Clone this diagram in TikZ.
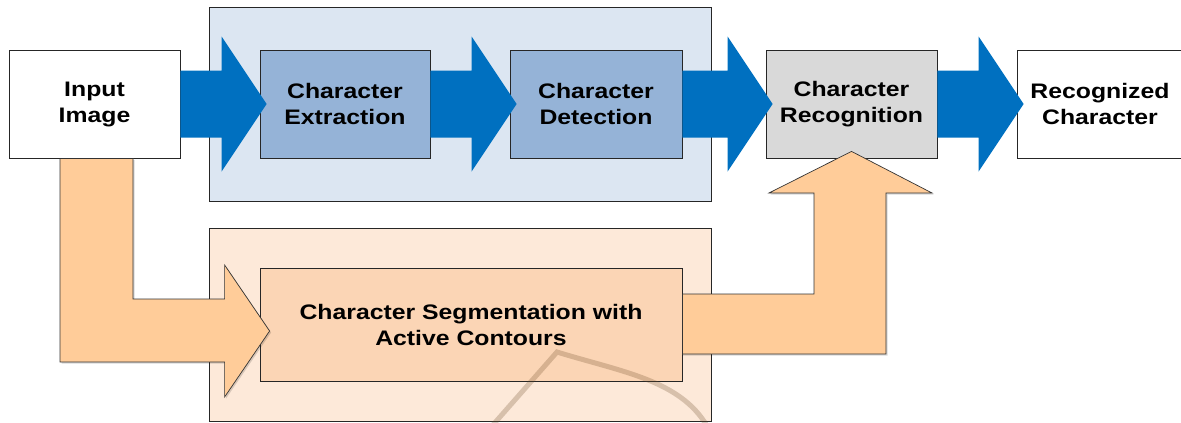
\documentclass[tikz,border=0pt]{standalone}
\usepackage{fontspec}
\newfontfamily\lbl{Liberation Sans}[FakeStretch=1.18]
\usetikzlibrary{calc}
\definecolor{grpblue}{HTML}{DCE6F2}
\definecolor{boxblue}{HTML}{95B3D7}
\definecolor{arrblue}{HTML}{0070C0}
\definecolor{boxgray}{HTML}{D9D9D9}
\definecolor{grporange}{HTML}{FDE9D9}
\definecolor{boxorange}{HTML}{FBD5B5}
\definecolor{arrorange}{HTML}{FFCC99}
\tikzset{
  blk/.style={draw=black!85, line width=0.8pt, minimum height=108pt, inner sep=0pt,
     align=center, font=\lbl\bfseries\fontsize{21}{26}\selectfont, text=black},
  grp/.style={draw=black!85, line width=0.8pt, minimum width=502pt, inner sep=0pt},
  bluearr/.style={fill=arrblue},
  orarr/.style={fill=arrorange, draw=black!80, line width=0.7pt},
  orshadow/.style={fill=black, opacity=0.15},
  wmark/.style={draw=black!45!brown, line width=5pt, opacity=0.25}
}
\newcommand\bluearrow[2]{%
  \path[bluearr] let \p1=(#1.east), \p2=(#2.west) in
   (\x1,\y1+33.5pt) -- (\x2-38pt,\y1+33.5pt) -- (\x2-38pt,\y1+67.5pt) -- (\x2+7pt,\y1)
   -- (\x2-38pt,\y1-67.5pt) -- (\x2-38pt,\y1-33.5pt) -- (\x1,\y1-33.5pt) -- cycle;}
\begin{document}
\begin{tikzpicture}[x=1pt,y=-1pt]
\useasboundingbox (0,0) rectangle (1181,423);
% groups
\node[grp, fill=grpblue, minimum height=194pt] (gtop) at (460,104) {};
\node[grp, fill=grporange, minimum height=193pt] (gbot) at (460,324.5) {};
% boxes
\node[blk, fill=white, minimum width=171pt] (in) at (94.5,104) {Input\\Image};
\node[blk, fill=boxblue, minimum width=170pt] (ext) at (345,104) {Character\\Extraction};
\node[blk, fill=boxblue, minimum width=172pt] (det) at (596,104) {Character\\Detection};
\node[blk, fill=boxgray, minimum width=171pt] (rec) at (851.5,104) {Character\\Recognition};
\node[blk, fill=white, minimum width=166pt] (out) at (1100,104) {Recognized\\Character};
\node[blk, fill=boxorange, minimum width=422pt, minimum height=113pt] (seg) at (471,324.5)
  {Character Segmentation with\\Active Contours};
% blue arrows
\bluearrow{in}{ext}
\bluearrow{ext}{det}
\bluearrow{det}{rec}
\bluearrow{rec}{out}
% orange arrow from input image to segmentation
\path[orshadow] let \p1=(in.south), \p2=(seg.west) in
  (\x1-34.5pt+1.5pt,\y1-1.5pt) -- (\x1-34.5pt+1.5pt,-363.5pt) -- (\x2-35pt+1.5pt,-363.5pt) -- (\x2-35pt+1.5pt,-398.5pt)
  -- (\x2+10pt+1.5pt,-332.5pt) -- (\x2-35pt+1.5pt,-266.5pt) -- (\x2-35pt+1.5pt,-300.5pt) -- (\x1+38.5pt+1.5pt,-300.5pt)
  -- (\x1+38.5pt+1.5pt,\y1-1.5pt) -- cycle;
\path[orarr] let \p1=(in.south), \p2=(seg.west) in
  (\x1-34.5pt,\y1) -- (\x1-34.5pt,-362pt) -- (\x2-35pt,-362pt) -- (\x2-35pt,-397pt)
  -- (\x2+10pt,-331pt) -- (\x2-35pt,-265pt) -- (\x2-35pt,-299pt) -- (\x1+38.5pt,-299pt)
  -- (\x1+38.5pt,\y1) -- cycle;
% orange arrow from segmentation to recognition
\path[orshadow] let \p1=(seg.east), \p2=(rec.south) in
  (\x1,-295.5pt) -- (\x2-37.5pt+1.5pt,-295.5pt) -- (\x2-37.5pt+1.5pt,-194.5pt) -- (\x2-82.5pt+1.5pt,-194.5pt)
  -- (\x2+1.5pt,\y2+5.5pt) -- (\x2+80.5pt+1.5pt,-194.5pt) -- (\x2+34.5pt+1.5pt,-194.5pt) -- (\x2+34.5pt+1.5pt,-355.5pt)
  -- (\x1,-355.5pt) -- cycle;
\path[orarr] let \p1=(seg.east), \p2=(rec.south) in
  (\x1,-294pt) -- (\x2-37.5pt,-294pt) -- (\x2-37.5pt,-193pt) -- (\x2-82.5pt,-193pt)
  -- (\x2,\y2+7pt) -- (\x2+80.5pt,-193pt) -- (\x2+34.5pt,-193pt) -- (\x2+34.5pt,-354pt)
  -- (\x1,-354pt) -- cycle;
% faint watermark stroke
\draw[wmark] (492,426) -- (557,352) .. controls (622,372) and (680,380) .. (707,426);
\end{tikzpicture}
\end{document}
